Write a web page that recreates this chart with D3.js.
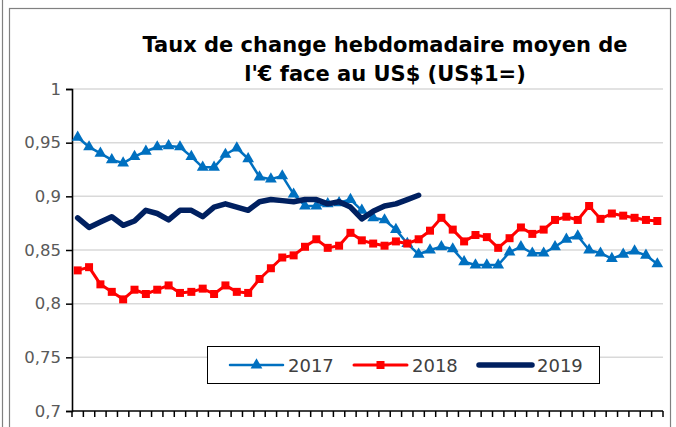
<!DOCTYPE html>
<html>
<head>
<meta charset="utf-8">
<script src="https://cdn.jsdelivr.net/npm/d3@7"></script>
<style>
  body { margin: 0; background: #fff; }
  svg { display: block; }
</style>
</head>
<body>
<div id="chart"></div>
<script>
// weekly average EUR/USD, one value per week
const weeks = d3.range(1, 53);
const rates2017 = [0.955, 0.946, 0.940, 0.934, 0.931, 0.937, 0.942, 0.946, 0.947, 0.946,
  0.937, 0.927, 0.927, 0.939, 0.945, 0.935, 0.918, 0.916, 0.919, 0.902,
  0.891, 0.891, 0.893, 0.894, 0.897, 0.887, 0.880, 0.878, 0.869, 0.856,
  0.846, 0.850, 0.853, 0.851, 0.839, 0.836, 0.836, 0.836, 0.848, 0.853,
  0.847, 0.847, 0.853, 0.860, 0.863, 0.850, 0.847, 0.842, 0.846, 0.849,
  0.845, 0.837];
const rates2018 = [0.831, 0.834, 0.818, 0.811, 0.804, 0.813, 0.809, 0.813, 0.817, 0.810,
  0.811, 0.814, 0.809, 0.817, 0.811, 0.810, 0.823, 0.833, 0.843, 0.845,
  0.853, 0.860, 0.852, 0.854, 0.866, 0.859, 0.856, 0.854, 0.858, 0.856,
  0.860, 0.868, 0.880, 0.869, 0.858, 0.864, 0.862, 0.852, 0.861, 0.871,
  0.865, 0.869, 0.878, 0.881, 0.878, 0.891, 0.879, 0.884, 0.882, 0.880,
  0.878, 0.877];
const rates2019 = [0.880, 0.871, 0.876, 0.881, 0.873, 0.877, 0.887, 0.884, 0.878, 0.887,
  0.887, 0.881, 0.890, 0.893, 0.890, 0.887, 0.895, 0.897, 0.896, 0.895,
  0.897, 0.897, 0.893, 0.895, 0.890, 0.879, 0.886, 0.891, 0.893, 0.897,
  0.901];
const yTicks = [0.7, 0.75, 0.8, 0.85, 0.9, 0.95, 1];
const titleLines = ["Taux de change hebdomadaire moyen de", "l'\u20ac face au US$ (US$1=)"];

const series = [
  {name: "2017", values: rates2017, color: "#0070C0", width: 2.5, marker: "triangle"},
  {name: "2018", values: rates2018, color: "#FF0000", width: 3, marker: "square"},
  {name: "2019", values: rates2019, color: "#002060", width: 5.5, marker: null}
];

const W = 676, H = 427;
const margin = {top: 89, right: 13, bottom: 16, left: 72};

const svg = d3.select("#chart").append("svg")
  .attr("width", W).attr("height", H);

// chart frame
svg.append("rect")
  .attr("x", 9.5).attr("y", 8.5)
  .attr("width", 661).attr("height", 430)
  .attr("fill", "none").attr("stroke", "#808080").attr("stroke-width", 1.2);
svg.append("line")
  .attr("x1", 2.5).attr("x2", 2.5).attr("y1", 0).attr("y2", H)
  .attr("stroke", "#808080").attr("stroke-width", 1.2);

const x = d3.scaleBand()
  .domain(weeks)
  .range([margin.left, W - margin.right]);

const y = d3.scaleLinear()
  .domain([0.7, 1])
  .range([H - margin.bottom, margin.top]);

const fmt = d => d3.format("~g")(d).replace(".", ",");

// gridlines
svg.append("g")
  .selectAll("line")
  .data(yTicks.filter(d => d > 0.7))
  .join("line")
  .attr("x1", margin.left).attr("x2", W - margin.right)
  .attr("y1", d => y(d)).attr("y2", d => y(d))
  .attr("stroke", "#D9D9D9").attr("stroke-width", 1.5);

// y axis
const yAxis = svg.append("g")
  .attr("transform", `translate(${margin.left},0)`)
  .call(d3.axisLeft(y).tickValues(yTicks).tickFormat(fmt).tickSize(6).tickPadding(5));
yAxis.select(".domain").attr("stroke", "#000").attr("stroke-width", 1.6);
yAxis.selectAll(".tick line").attr("stroke", "#000").attr("stroke-width", 1.5);
yAxis.selectAll("text")
  .attr("fill", "#595959")
  .style("font-family", "'DejaVu Sans', sans-serif")
  .style("font-size", "16.5px");

// x axis: ticks between categories, no labels
const xAxis = svg.append("g")
  .attr("transform", `translate(0,${H - margin.bottom})`);
xAxis.append("line")
  .attr("x1", margin.left).attr("x2", W - margin.right)
  .attr("stroke", "#000").attr("stroke-width", 1.6);
xAxis.selectAll(".tk")
  .data(weeks.concat([null]))
  .join("line")
  .attr("class", "tk")
  .attr("x1", d => d === null ? x.range()[1] : x(d))
  .attr("x2", d => d === null ? x.range()[1] : x(d))
  .attr("y1", 0).attr("y2", 6)
  .attr("stroke", "#000").attr("stroke-width", 1.5);

const cx = (d, i) => x(weeks[i]) + x.bandwidth() / 2;

const line = d3.line()
  .x((d, i) => cx(d, i))
  .y(d => y(d));

const plot = svg.append("g");
series.forEach(s => {
  plot.append("path")
    .datum(s.values)
    .attr("fill", "none")
    .attr("stroke", s.color)
    .attr("stroke-width", s.width)
    .attr("stroke-linejoin", "round")
    .attr("stroke-linecap", "round")
    .attr("d", line);
  if (s.marker) {
    const sym = s.marker === "triangle" ? d3.symbolTriangle : d3.symbolSquare;
    plot.append("g")
      .selectAll("path")
      .data(s.values)
      .join("path")
      .attr("transform", (d, i) => `translate(${cx(d, i)},${y(d)})`)
      .attr("d", d3.symbol().type(sym).size(s.marker === "triangle" ? 60 : 64))
      .attr("fill", s.color);
  }
});

// title
svg.append("text")
  .attr("x", 385).attr("text-anchor", "middle")
  .style("font-family", "'DejaVu Sans', sans-serif")
  .style("font-weight", "bold")
  .style("font-size", "21px")
  .attr("fill", "#000")
  .selectAll("tspan")
  .data(titleLines)
  .join("tspan")
  .attr("x", 385)
  .attr("y", (d, i) => 52 + i * 29)
  .text(d => d);

// legend
const legend = svg.append("g");
legend.append("rect")
  .attr("x", 207.5).attr("y", 346.5)
  .attr("width", 392).attr("height", 37)
  .attr("fill", "#fff").attr("stroke", "#000").attr("stroke-width", 1);
const legX = [230, 354, 479];
series.forEach((s, k) => {
  const g = legend.append("g").attr("transform", `translate(${legX[k]},365)`);
  g.append("line")
    .attr("x1", 0).attr("x2", 53)
    .attr("stroke", s.color).attr("stroke-width", s.width)
    .attr("stroke-linecap", "round");
  if (s.marker) {
    const sym = s.marker === "triangle" ? d3.symbolTriangle : d3.symbolSquare;
    g.append("path")
      .attr("transform", "translate(26.5,0)")
      .attr("d", d3.symbol().type(sym).size(s.marker === "triangle" ? 60 : 64))
      .attr("fill", s.color);
  }
  g.append("text")
    .attr("x", 58).attr("y", 7)
    .attr("fill", "#404040")
    .style("font-family", "'DejaVu Sans', sans-serif")
    .style("font-size", "18px")
    .text(s.name);
});
</script>
</body>
</html>
